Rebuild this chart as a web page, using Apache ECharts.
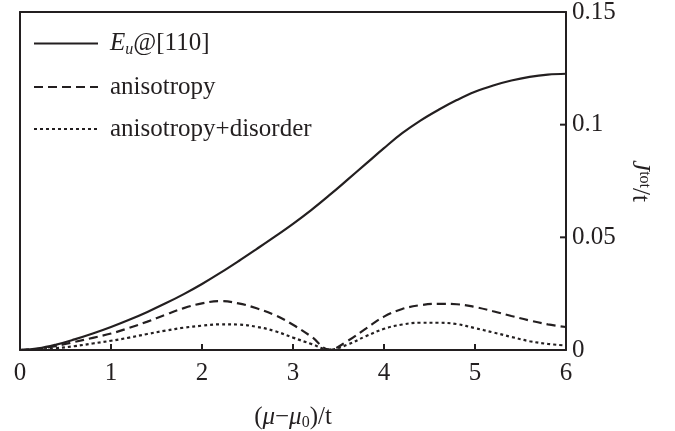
<!DOCTYPE html>
<html>
<head>
<meta charset="utf-8">
<script src="https://cdn.jsdelivr.net/npm/echarts@6/dist/echarts.min.js"></script>
<style>
  html, body { margin: 0; padding: 0; background: #fff; }
  #main { width: 675px; height: 431px; }
</style>
</head>
<body>
<div id="main"></div>
<script>
  // data, x in steps of 0.2
  const xs = [0, 0.2, 0.4, 0.6, 0.8, 1.0, 1.2, 1.4, 1.6, 1.8, 2.0, 2.2, 2.4, 2.6, 2.8, 3.0,
              3.2, 3.4, 3.6, 3.8, 4.0, 4.2, 4.4, 4.6, 4.8, 5.0, 5.2, 5.4, 5.6, 5.8, 6.0];
  const euValues = [0, 0.0007, 0.0024, 0.0047, 0.0073, 0.0102, 0.0134, 0.0169, 0.0207, 0.0248, 0.0293,
                    0.0342, 0.0394, 0.0448, 0.0503, 0.0560, 0.0621, 0.0687, 0.0756, 0.0826, 0.0896,
                    0.0962, 0.1018, 0.1066, 0.1109, 0.1146, 0.1174, 0.1196, 0.1212, 0.1222, 0.1226];
  const anisoValues = [0, 0.0005, 0.0018, 0.0036, 0.0054, 0.0073, 0.0098, 0.0126, 0.0157, 0.0186, 0.0207,
                       0.0217, 0.0207, 0.0185, 0.0155, 0.0112, 0.0060, 0.0002, 0.0040, 0.0095, 0.0148,
                       0.0182, 0.0199, 0.0205, 0.0203, 0.0191, 0.0172, 0.0151, 0.0131, 0.0114, 0.0102];
  const disorderValues = [0, 0.0002, 0.0008, 0.0017, 0.0029, 0.0041, 0.0055, 0.0071, 0.0086, 0.0099, 0.0108,
                          0.0114, 0.0113, 0.0103, 0.0084, 0.0055, 0.0027, 0.0002, 0.0024, 0.0061, 0.0094,
                          0.0113, 0.0121, 0.0121, 0.0115, 0.0097, 0.0078, 0.0058, 0.0039, 0.0027, 0.0020];
  // inner tick marks (the end ticks sit on the frame)
  const xTickValues = [1, 2, 3, 4, 5];
  const yTickValues = [0.05, 0.1];

  const ink = '#231f20';
  const serif = '"Liberation Serif", "DejaVu Serif", serif';
  const xMax = 6;
  const tickLen = 6;

  const pairs = (ys) => xs.map((x, i) => [x, ys[i]]);

  const chart = echarts.init(document.getElementById('main'));

  const lineSeries = (name, ys, type) => ({
    name: name,
    type: 'line',
    data: pairs(ys),
    smooth: 0.4,
    symbol: 'none',
    lineStyle: { color: ink, width: 2.2, type: type },
    itemStyle: { color: ink }
  });

  // plain axis used only to close the frame (top and left sides)
  const frameAxis = (position, min, max) => ({
    type: 'value',
    position: position,
    min: min, max: max,
    axisLine: { show: true, onZero: false, lineStyle: { color: ink, width: 2 } },
    axisTick: { show: false },
    axisLabel: { show: false },
    splitLine: { show: false }
  });

  // inward ticks, placed through the axes' own scales
  const tickSeries = (data, vertical) => ({
    type: 'custom',
    silent: true,
    z: 5,
    data: data,
    renderItem: function (params, api) {
      const p = api.coord([api.value(0), api.value(1)]);
      const shape = vertical
        ? { x1: p[0], y1: p[1], x2: p[0], y2: p[1] - tickLen }
        : { x1: p[0], y1: p[1], x2: p[0] - tickLen, y2: p[1] };
      return { type: 'line', shape: shape, style: { stroke: ink, lineWidth: 2 } };
    }
  });

  const option = {
    animation: false,
    backgroundColor: '#fff',
    grid: {
      left: 20, right: 109, top: 12, bottom: 81,
      outerBoundsMode: 'none'
    },
    legend: {
      orient: 'vertical',
      left: 33, top: 31, padding: 0,
      itemWidth: 64, itemHeight: 20, itemGap: 17,
      itemStyle: { opacity: 0 },
      data: ['Eu', 'anisotropy', 'anisotropy+disorder'],
      formatter: function (name) {
        if (name === 'Eu') return '{i|E}{sub|u}@[110]';
        return name;
      },
      textStyle: {
        fontFamily: serif, fontSize: 25, color: ink, padding: [0, 0, 0, 7],
        rich: {
          i: { fontFamily: serif, fontStyle: 'italic', fontSize: 25, color: ink },
          sub: { fontFamily: serif, fontStyle: 'italic', fontSize: 16, color: ink, verticalAlign: 'bottom', padding: [12, 0, 0, 0] }
        }
      }
    },
    xAxis: [{
      type: 'value',
      position: 'bottom',
      min: 0, max: xMax, interval: 1,
      name: '({i|μ}−{i|μ}{sub|0})/t',
      nameLocation: 'middle',
      nameGap: 53,
      nameTextStyle: {
        fontFamily: serif, fontSize: 25, color: ink,
        rich: {
          i: { fontFamily: serif, fontStyle: 'italic', fontSize: 25, color: ink },
          sub: { fontFamily: serif, fontSize: 16, color: ink, padding: [12, 0, 0, 0] }
        }
      },
      axisLine: { show: true, onZero: false, lineStyle: { color: ink, width: 2 } },
      axisTick: { show: false },
      axisLabel: { margin: 11, fontFamily: serif, fontSize: 25, color: ink },
      splitLine: { show: false }
    }, frameAxis('top', 0, xMax)],
    yAxis: [{
      type: 'value',
      position: 'right',
      min: 0, max: 0.15, interval: 0.05,
      name: '{i|J}{sup|tot}/t',
      nameLocation: 'middle',
      nameRotate: -90,
      nameGap: 52,
      nameTextStyle: {
        fontFamily: serif, fontSize: 25, color: ink,
        rich: {
          i: { fontFamily: serif, fontStyle: 'italic', fontSize: 25, color: ink },
          sup: { fontFamily: serif, fontSize: 16, color: ink, verticalAlign: 'top', padding: [0, 0, 10, 0] }
        }
      },
      axisLine: { show: true, onZero: false, lineStyle: { color: ink, width: 2 } },
      axisTick: { show: false },
      axisLabel: {
        margin: 6, fontFamily: serif, fontSize: 25, color: ink,
        formatter: (v) => String(Math.round(v * 100) / 100)
      },
      splitLine: { show: false }
    }, frameAxis('left', 0, 0.15)],
    series: [
      lineSeries('Eu', euValues, 'solid'),
      lineSeries('anisotropy', anisoValues, [9, 5]),
      lineSeries('anisotropy+disorder', disorderValues, [3, 3]),
      tickSeries(xTickValues.map((v) => [v, 0]), true),
      tickSeries(yTickValues.map((v) => [xMax, v]), false)
    ]
  };

  chart.setOption(option);
</script>
</body>
</html>
